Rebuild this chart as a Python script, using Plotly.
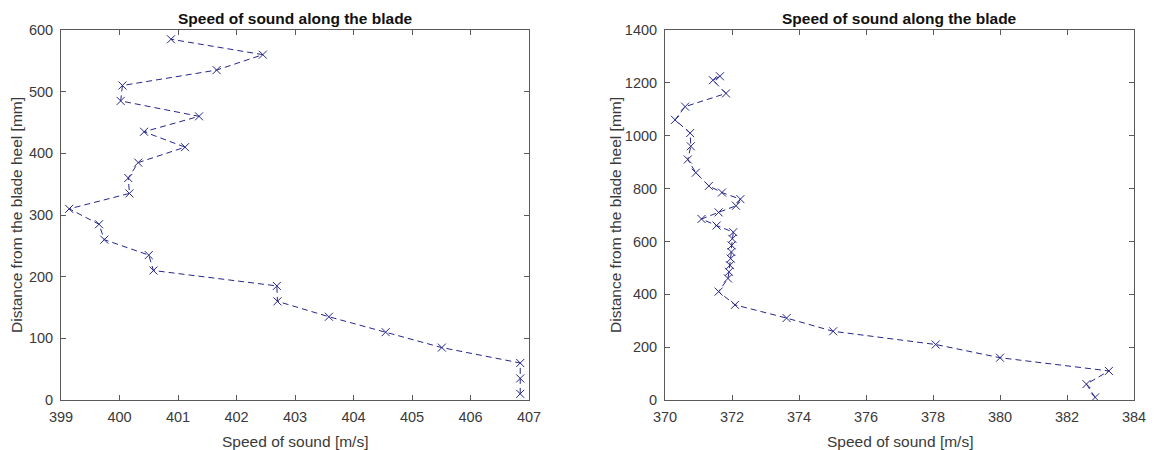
import plotly.graph_objects as go

# Left blade: distance from heel [mm] and measured speed of sound [m/s]
dist_left = [10, 35, 60, 85, 110, 135, 160, 185, 210, 235, 260, 285, 310,
             335, 360, 385, 410, 435, 460, 485, 510, 535, 560, 585]
speed_left = [406.85, 406.85, 406.85, 405.51, 404.55, 403.58, 402.70, 402.69,
              400.58, 400.50, 399.74, 399.65, 399.14, 400.17, 400.15, 400.32,
              401.12, 400.42, 401.36, 400.02, 400.05, 401.66, 402.45, 400.88]

# Right blade
dist_right = [10, 60, 110, 160, 210, 260, 310, 360, 410, 460, 485, 510, 535,
              560, 585, 610, 635, 660, 685, 710, 735, 760, 785, 810, 860, 910,
              960, 1010, 1060, 1110, 1160, 1210, 1225]
speed_right = [382.84, 382.58, 383.25, 380.00, 378.08, 375.02, 373.63, 372.09,
               371.60, 371.88, 371.91, 371.94, 371.96, 371.98, 371.99, 372.01,
               372.04, 371.54, 371.09, 371.60, 372.12, 372.25, 371.70, 371.31,
               370.92, 370.68, 370.77, 370.75, 370.30, 370.60, 371.82, 371.43,
               371.64]

x_ticks_left = [399, 400, 401, 402, 403, 404, 405, 406, 407]
y_ticks_left = [0, 100, 200, 300, 400, 500, 600]
x_ticks_right = [370, 372, 374, 376, 378, 380, 382, 384]
y_ticks_right = [0, 200, 400, 600, 800, 1000, 1200, 1400]

title_text = "Speed of sound along the blade"
x_label = "Speed of sound [m/s]"
y_label = "Distance from the blade heel [mm]"

W, H = 1154, 450
FONT = "Liberation Sans, Arial, sans-serif"
LINE_COLOR = "#26268a"
AXIS_COLOR = "#5a5a5a"
TEXT_COLOR = "#3a3a3a"

# plot areas in pixels: (left, right, top, bottom)
areas = [(61, 529, 30, 400), (665, 1134, 30, 400)]

fig = go.Figure()

def add_series(x, y, xa, ya):
    fig.add_trace(go.Scatter(
        x=x, y=y, mode="lines+markers", xaxis=xa, yaxis=ya,
        line=dict(color=LINE_COLOR, width=1, dash="6px,4px"),
        marker=dict(symbol="x-thin", size=8,
                    line=dict(color=LINE_COLOR, width=1)),
        showlegend=False, hoverinfo="x+y"))

add_series(speed_left, dist_left, "x", "y")
add_series(speed_right, dist_right, "x2", "y2")

def axis_style(ticks, rng, domain, anchor):
    return dict(
        range=rng, domain=domain, anchor=anchor, tickvals=ticks,
        ticks="inside", ticklen=5, tickwidth=1, tickcolor=AXIS_COLOR,
        showline=True, linecolor=AXIS_COLOR, linewidth=1, mirror="allticks",
        showgrid=False, zeroline=False, automargin=False,
        tickfont=dict(family=FONT, size=14.5, color=TEXT_COLOR),
    )

def xdom(a):
    return [a[0] / W, a[1] / W]

def ydom(a):
    return [1 - a[3] / H, 1 - a[2] / H]

layout = dict(
    width=W, height=H,
    margin=dict(l=0, r=0, t=0, b=0),
    paper_bgcolor="white", plot_bgcolor="white",
    xaxis=axis_style(x_ticks_left, [399, 407], xdom(areas[0]), "y"),
    yaxis=axis_style(y_ticks_left, [0, 600], ydom(areas[0]), "x"),
    xaxis2=axis_style(x_ticks_right, [370, 384], xdom(areas[1]), "y2"),
    yaxis2=axis_style(y_ticks_right, [0, 1400], ydom(areas[1]), "x2"),
)
layout["xaxis"]["ticklabelstandoff"] = 4
layout["xaxis2"]["ticklabelstandoff"] = 4
layout["yaxis"]["ticklabelstandoff"] = 4
layout["yaxis2"]["ticklabelstandoff"] = 4
fig.update_layout(**layout)

annotations = []
for (l, r, t, b), ylab_x in zip(areas, [16, 615]):
    cx = (l + r) / 2
    annotations.append(dict(
        text=f"<b>{title_text}</b>", x=cx / W, y=1 - 18 / H,
        xref="paper", yref="paper", xanchor="center", yanchor="middle",
        showarrow=False, font=dict(family=FONT, size=15.5, color="#111111")))
    annotations.append(dict(
        text=x_label, x=cx / W, y=1 - 441 / H,
        xref="paper", yref="paper", xanchor="center", yanchor="middle",
        showarrow=False, font=dict(family=FONT, size=15.5, color=TEXT_COLOR)))
    annotations.append(dict(
        text=y_label, x=ylab_x / W, y=1 - ((t + b) / 2) / H, textangle=-90,
        xref="paper", yref="paper", xanchor="center", yanchor="middle",
        showarrow=False, font=dict(family=FONT, size=15.5, color=TEXT_COLOR)))
fig.update_layout(annotations=annotations)

fig.write_html("out.html")
